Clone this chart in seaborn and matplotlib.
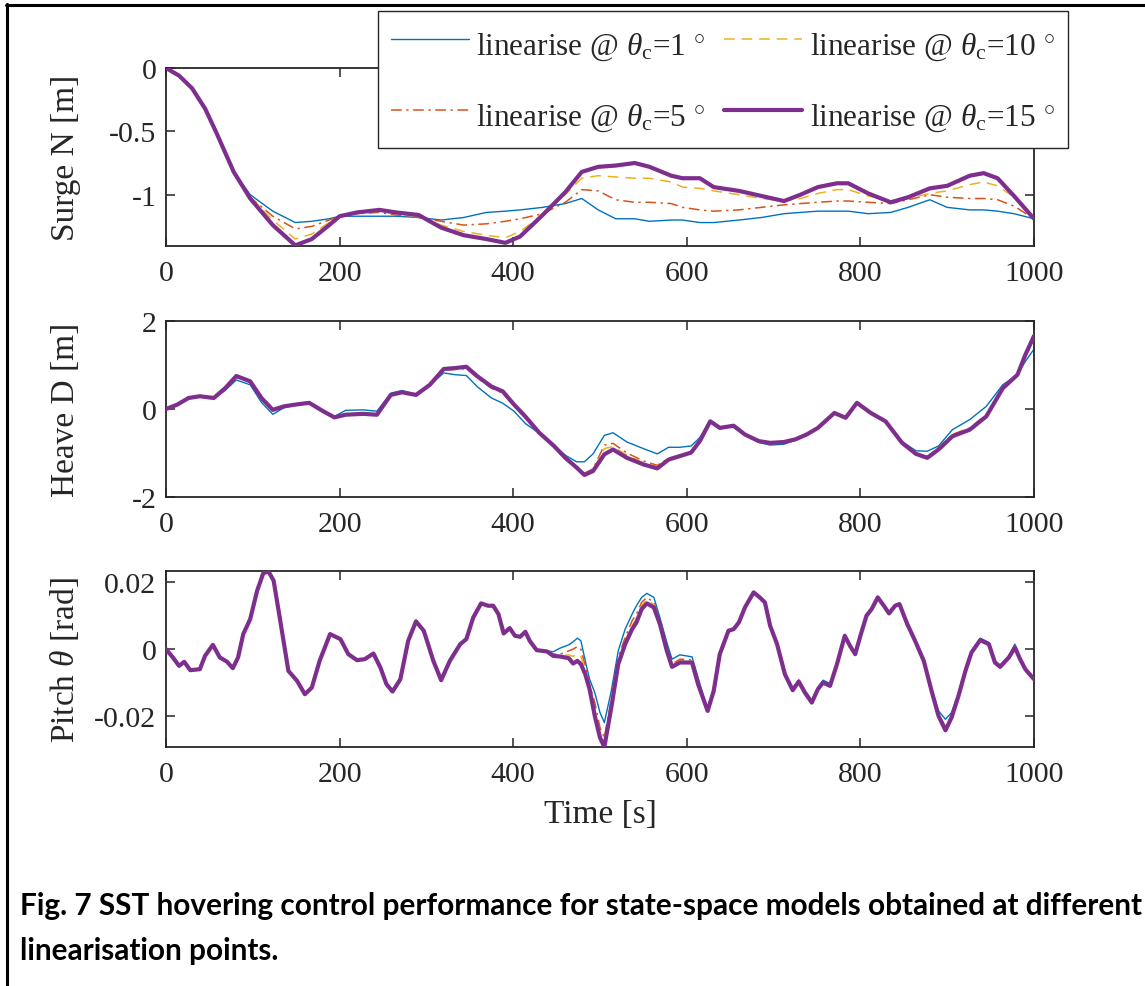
import numpy as np
import pandas as pd
import matplotlib
matplotlib.use("Agg")
import matplotlib.pyplot as plt
from matplotlib.lines import Line2D
import seaborn as sns

# ---------------- data ----------------
t_surge = [0, 15, 30, 45, 58, 78, 97, 123, 149, 168, 188, 200, 220, 246, 265, 291, 317, 343, 369, 391,
           408, 434, 460, 479, 498, 518, 540, 557, 582, 595, 615, 631, 660, 686, 712, 731, 751, 773, 786, 809,
           835, 855, 880, 900, 926, 942, 958, 977, 1000]
surge_1 = [0, -0.06, -0.16, -0.32, -0.51, -0.82, -1.00, -1.13, -1.22, -1.21, -1.19, -1.17, -1.17, -1.17, -1.17,
           -1.18, -1.20, -1.18, -1.14, -1.13, -1.12, -1.10, -1.07, -1.03, -1.12, -1.19, -1.19, -1.21, -1.20, -1.20,
           -1.22, -1.22, -1.20, -1.18, -1.15, -1.14, -1.13, -1.13, -1.13, -1.15, -1.14, -1.10, -1.04, -1.10, -1.12,
           -1.12, -1.13, -1.15, -1.19]
surge_5 = [0, -0.06, -0.16, -0.32, -0.51, -0.82, -1.02, -1.17, -1.27, -1.25, -1.20, -1.17, -1.15, -1.14, -1.16,
           -1.18, -1.21, -1.24, -1.23, -1.21, -1.19, -1.15, -1.06, -0.96, -0.97, -1.04, -1.06, -1.06, -1.07, -1.10,
           -1.12, -1.13, -1.12, -1.10, -1.08, -1.07, -1.06, -1.05, -1.05, -1.06, -1.07, -1.04, -1.00, -1.02, -1.03,
           -1.03, -1.04, -1.09, -1.19]
surge_10 = [0, -0.06, -0.16, -0.32, -0.51, -0.82, -1.02, -1.20, -1.35, -1.31, -1.22, -1.17, -1.15, -1.13, -1.15,
            -1.17, -1.24, -1.29, -1.32, -1.34, -1.29, -1.16, -1.00, -0.87, -0.85, -0.86, -0.87, -0.87, -0.90, -0.94,
            -0.95, -0.97, -1.00, -1.03, -1.05, -1.03, -0.99, -0.96, -0.96, -1.01, -1.05, -1.03, -0.99, -0.97, -0.92,
            -0.90, -0.93, -1.02, -1.19]
surge_15 = [0, -0.06, -0.16, -0.32, -0.51, -0.82, -1.03, -1.24, -1.40, -1.35, -1.24, -1.17, -1.14, -1.12, -1.14,
            -1.16, -1.26, -1.32, -1.35, -1.38, -1.33, -1.16, -0.98, -0.82, -0.78, -0.77, -0.75, -0.78, -0.85, -0.87,
            -0.87, -0.94, -0.97, -1.01, -1.05, -1.00, -0.94, -0.91, -0.91, -0.99, -1.06, -1.02, -0.95, -0.93, -0.85,
            -0.83, -0.87, -1.01, -1.19]

t_heave = [0, 13, 26, 39, 55, 68, 81, 97, 110, 123, 136, 149, 165, 181, 194, 207, 227, 243, 259, 272,
           288, 304, 320, 333, 346, 359, 375, 388, 401, 414, 430, 447, 460, 473, 482, 492, 505, 515, 531, 550,
           566, 579, 592, 605, 615, 627, 638, 654, 667, 683, 696, 712, 725, 738, 751, 770, 783, 796, 812, 829,
           848, 864, 877, 890, 906, 926, 945, 964, 981, 990, 1000]
heave_1 = [0, 0.10, 0.25, 0.28, 0.24, 0.42, 0.66, 0.55, 0.15, -0.12,
           0.03, 0.09, 0.13, -0.05, -0.17, -0.03, -0.02, -0.05, 0.36, 0.42,
           0.33, 0.55, 0.82, 0.78, 0.76, 0.50, 0.25, 0.13, -0.05, -0.33,
           -0.55, -0.82, -1.05, -1.20, -1.20, -1.02, -0.60, -0.54, -0.75, -0.90,
           -1.02, -0.87, -0.87, -0.84, -0.65, -0.26, -0.40, -0.42, -0.60, -0.76,
           -0.82, -0.80, -0.71, -0.58, -0.44, -0.10, -0.20, 0.13, -0.08, -0.28,
           -0.74, -0.95, -0.96, -0.84, -0.47, -0.24, 0.06, 0.55, 0.78, 1.08,
           1.36]
heave_5 = [0, 0.10, 0.25, 0.29, 0.25, 0.46, 0.72, 0.61, 0.22, -0.04,
           0.06, 0.10, 0.14, -0.05, -0.19, -0.12, -0.10, -0.12, 0.33, 0.39,
           0.32, 0.55, 0.88, 0.90, 0.92, 0.70, 0.47, 0.36, 0.07, -0.20,
           -0.55, -0.84, -1.10, -1.32, -1.46, -1.36, -0.82, -0.78, -1.00, -1.18,
           -1.28, -1.12, -1.05, -0.97, -0.72, -0.28, -0.43, -0.39, -0.59, -0.74,
           -0.78, -0.76, -0.70, -0.58, -0.43, -0.09, -0.20, 0.14, -0.09, -0.28,
           -0.77, -1.01, -1.08, -0.88, -0.58, -0.43, -0.13, 0.48, 0.78, 1.20,
           1.60]
heave_10 = [0, 0.10, 0.25, 0.29, 0.25, 0.47, 0.74, 0.62, 0.24, -0.03,
            0.06, 0.10, 0.14, -0.05, -0.19, -0.13, -0.11, -0.13, 0.32, 0.38,
            0.32, 0.55, 0.90, 0.92, 0.95, 0.73, 0.50, 0.39, 0.09, -0.18,
            -0.54, -0.84, -1.11, -1.33, -1.48, -1.39, -0.90, -0.85, -1.05, -1.22,
            -1.31, -1.13, -1.06, -0.98, -0.73, -0.28, -0.43, -0.38, -0.58, -0.73,
            -0.77, -0.75, -0.69, -0.58, -0.43, -0.09, -0.20, 0.14, -0.09, -0.28,
            -0.77, -1.02, -1.10, -0.90, -0.60, -0.45, -0.15, 0.47, 0.78, 1.22,
            1.63]
heave_15 = [0, 0.10, 0.25, 0.29, 0.25, 0.47, 0.75, 0.63, 0.25, -0.02,
            0.06, 0.10, 0.14, -0.05, -0.19, -0.13, -0.11, -0.13, 0.32, 0.38,
            0.32, 0.55, 0.91, 0.93, 0.96, 0.74, 0.51, 0.40, 0.10, -0.17,
            -0.54, -0.84, -1.11, -1.33, -1.50, -1.41, -1.03, -0.92, -1.11, -1.26,
            -1.35, -1.15, -1.07, -0.99, -0.73, -0.28, -0.43, -0.38, -0.58, -0.73,
            -0.77, -0.75, -0.69, -0.58, -0.43, -0.09, -0.20, 0.14, -0.09, -0.28,
            -0.77, -1.02, -1.11, -0.92, -0.62, -0.47, -0.17, 0.47, 0.78, 1.23,
            1.66]

t_pitch = [0, 8, 15, 21, 28, 39, 45, 54, 62, 70,
           77, 83, 89, 97, 105, 112, 118, 124, 131, 141,
           151, 160, 168, 177, 189, 201, 210, 220, 229, 239,
           247, 254, 261, 270, 279, 288, 297, 308, 317, 327,
           339, 346, 354, 363, 371, 377, 383, 389, 396, 402,
           408, 414, 419, 427, 439, 446, 454, 464, 469, 474,
           478, 483, 488, 494, 500, 505, 513, 521, 529, 537,
           542, 548, 554, 562, 569, 577, 583, 592, 606, 613,
           624, 631, 638, 648, 654, 660, 667, 677, 684, 690,
           696, 704, 713, 722, 729, 736, 744, 751, 757, 765,
           773, 782, 788, 794, 800, 807, 813, 820, 827, 833,
           840, 845, 854, 863, 873, 882, 890, 898, 905, 913,
           921, 928, 938, 948, 955, 961, 971, 978, 984, 990,
           1000]
pitch_1 = [0, -0.0025, -0.005, -0.0038, -0.0063, -0.006, -0.002, 0.0013, -0.0025, -0.0037,
           -0.0057, -0.0025, 0.0045, 0.009, 0.0175, 0.0227, 0.0233, 0.0205, 0.0095, -0.0065,
           -0.0095, -0.0135, -0.0115, -0.0035, 0.0048, 0.003, -0.0015, -0.0033, -0.003, -0.0013,
           -0.0055, -0.0105, -0.0127, -0.009, 0.0025, 0.0087, 0.0055, -0.0035, -0.0093, -0.0035,
           0.0015, 0.003, 0.0095, 0.0137, 0.013, 0.013, 0.0105, 0.0047, 0.0063, 0.004,
           0.0037, 0.0052, 0.0025, -0.0003, -0.0005, -0.0008, 0.0003, 0.0013, 0.0022, 0.0033,
           0.0025, -0.0035, -0.009, -0.013, -0.019, -0.022, -0.0125, -0.0005, 0.006, 0.0105,
           0.013, 0.0155, 0.0167, 0.0155, 0.0095, 0.002, -0.003, -0.0017, -0.0023, -0.0085,
           -0.0183, -0.0125, -0.0015, 0.0055, 0.006, 0.008, 0.0125, 0.017, 0.0155, 0.014,
           0.007, 0.0015, -0.0075, -0.0117, -0.0092, -0.0123, -0.0153, -0.0115, -0.0093, -0.0103,
           -0.0045, 0.004, 0.001, -0.0015, 0.004, 0.01, 0.012, 0.0155, 0.013, 0.0107,
           0.013, 0.0135, 0.0075, 0.0025, -0.0035, -0.0118, -0.0185, -0.021, -0.019, -0.013,
           -0.0058, -0.0005, 0.0033, 0.002, -0.0035, -0.0048, -0.002, 0.0015, -0.0025, -0.0057,
           -0.009]
pitch_5 = [0, -0.0025, -0.005, -0.0038, -0.0063, -0.006, -0.002, 0.0013, -0.0025, -0.0037,
           -0.0057, -0.0025, 0.0045, 0.009, 0.0175, 0.0227, 0.0233, 0.0205, 0.0095, -0.0065,
           -0.0095, -0.0135, -0.0115, -0.0035, 0.0046, 0.003, -0.0015, -0.0033, -0.003, -0.0013,
           -0.0055, -0.0105, -0.0127, -0.009, 0.0025, 0.0085, 0.0055, -0.0035, -0.0093, -0.0035,
           0.0015, 0.003, 0.0095, 0.0137, 0.013, 0.013, 0.0105, 0.0047, 0.0063, 0.004,
           0.0037, 0.0052, 0.0025, -0.0003, -0.0007, -0.0015, -0.0015, -0.0005, 0.0, 0.0008,
           0.0, -0.005, -0.0105, -0.016, -0.0235, -0.0265, -0.015, -0.0025, 0.0035, 0.0085,
           0.0105, 0.014, 0.0155, 0.014, 0.0085, 0.0005, -0.0045, -0.003, -0.0032, -0.0095,
           -0.0184, -0.0125, -0.0015, 0.0055, 0.006, 0.008, 0.0125, 0.017, 0.0155, 0.014,
           0.007, 0.0015, -0.0075, -0.012, -0.0095, -0.0127, -0.0157, -0.0118, -0.0097, -0.0107,
           -0.0045, 0.004, 0.001, -0.0015, 0.004, 0.01, 0.012, 0.0155, 0.013, 0.0107,
           0.013, 0.0135, 0.0075, 0.0025, -0.0035, -0.0122, -0.0195, -0.0232, -0.02, -0.0135,
           -0.0062, -0.0008, 0.003, 0.0017, -0.0038, -0.005, -0.0023, 0.001, -0.0028, -0.0058,
           -0.009]
pitch_10 = [0, -0.0025, -0.005, -0.0038, -0.0063, -0.006, -0.002, 0.0013, -0.0025, -0.0037,
            -0.0057, -0.0025, 0.0045, 0.009, 0.0175, 0.0227, 0.0233, 0.0205, 0.0095, -0.0065,
            -0.0095, -0.0135, -0.0115, -0.0035, 0.0045, 0.003, -0.0015, -0.0033, -0.003, -0.0013,
            -0.0055, -0.0105, -0.0127, -0.009, 0.0025, 0.0084, 0.0055, -0.0035, -0.0093, -0.0035,
            0.0015, 0.003, 0.0095, 0.0137, 0.013, 0.013, 0.0105, 0.0047, 0.0063, 0.004,
            0.0037, 0.0052, 0.0025, -0.0003, -0.0007, -0.0019, -0.002, -0.0017, -0.0022, -0.0013,
            -0.0022, -0.006, -0.0115, -0.018, -0.025, -0.028, -0.0165, -0.0035, 0.0025, 0.007,
            0.0092, 0.013, 0.0148, 0.0133, 0.008, 0.0, -0.0048, -0.0035, -0.0036, -0.01,
            -0.0185, -0.0125, -0.0015, 0.0055, 0.006, 0.008, 0.0125, 0.017, 0.0155, 0.014,
            0.007, 0.0015, -0.0075, -0.0122, -0.0096, -0.0129, -0.0159, -0.0119, -0.0099, -0.0109,
            -0.0045, 0.004, 0.001, -0.0015, 0.004, 0.01, 0.012, 0.0155, 0.013, 0.0107,
            0.013, 0.0135, 0.0075, 0.0025, -0.0035, -0.0124, -0.0198, -0.024, -0.0203, -0.0138,
            -0.0064, -0.0009, 0.0028, 0.0016, -0.0039, -0.0052, -0.0024, 0.0007, -0.0029, -0.0059,
            -0.009]
pitch_15 = [0, -0.0025, -0.005, -0.0038, -0.0063, -0.006, -0.002, 0.0013, -0.0025, -0.0037,
            -0.0057, -0.0025, 0.0045, 0.009, 0.0175, 0.0227, 0.0233, 0.0205, 0.0095, -0.0065,
            -0.0095, -0.0135, -0.0115, -0.0035, 0.0045, 0.003, -0.0015, -0.0033, -0.003, -0.0013,
            -0.0055, -0.0105, -0.0127, -0.009, 0.0025, 0.0083, 0.0055, -0.0035, -0.0093, -0.0035,
            0.0015, 0.003, 0.0095, 0.0137, 0.013, 0.013, 0.0105, 0.0047, 0.0063, 0.004,
            0.0037, 0.0052, 0.0025, -0.0003, -0.0007, -0.002, -0.0022, -0.0027, -0.0043, -0.0035,
            -0.0045, -0.0075, -0.012, -0.02, -0.0265, -0.0293, -0.0175, -0.0045, 0.0015, 0.006,
            0.008, 0.012, 0.0137, 0.0125, 0.0075, -0.0005, -0.0053, -0.004, -0.004, -0.0105,
            -0.0185, -0.0125, -0.0015, 0.0055, 0.006, 0.008, 0.0125, 0.017, 0.0155, 0.014,
            0.007, 0.0015, -0.0075, -0.0123, -0.0097, -0.013, -0.016, -0.012, -0.01, -0.011,
            -0.0045, 0.004, 0.001, -0.0015, 0.004, 0.01, 0.012, 0.0155, 0.013, 0.0107,
            0.013, 0.0135, 0.0075, 0.0025, -0.0035, -0.0125, -0.02, -0.0243, -0.0205, -0.014,
            -0.0065, -0.001, 0.0027, 0.0015, -0.004, -0.0053, -0.0025, 0.0005, -0.003, -0.006,
            -0.009]

series_names = [r"linearise @ $\theta_{\mathrm{c}}$=1 $^{\circ}$",
                r"linearise @ $\theta_{\mathrm{c}}$=5 $^{\circ}$",
                r"linearise @ $\theta_{\mathrm{c}}$=10 $^{\circ}$",
                r"linearise @ $\theta_{\mathrm{c}}$=15 $^{\circ}$"]
x_ticks = [0, 200, 400, 600, 800, 1000]
y_labels = ["Surge N [m]", "Heave D [m]", r"Pitch $\theta$ [rad]"]
x_label = "Time [s]"
caption_1 = "Fig. 7 SST hovering control performance for state-space models obtained at different"
caption_2 = "linearisation points."

# ---------------- style ----------------
sns.set_theme(style="white")
plt.rcParams["font.family"] = ["Liberation Serif", "DejaVu Serif"]
plt.rcParams["mathtext.fontset"] = "custom"
plt.rcParams["mathtext.rm"] = "Liberation Serif"
plt.rcParams["mathtext.it"] = "Liberation Serif:italic"
plt.rcParams["axes.unicode_minus"] = False

colors = ["#0072BD", "#D95319", "#EDB120", "#7E2F8E"]
styles = ["-", (0, (7, 3, 1.5, 3)), (0, (7, 4.5)), "-"]
widths = [1.0, 1.1, 1.1, 3.0]
ink = "#262626"

W, H = 1145, 987
fig = plt.figure(figsize=(W / 100, H / 100), dpi=100)

def fx(px):
    return px / W

def fy(py):
    return 1 - py / H

left, right = 166, 1034
rows = [(69, 247), (322, 498), (572, 748)]
axes = []
for top, bot in rows:
    ax = fig.add_axes([fx(left), fy(bot), fx(right) - fx(left), fy(top) - fy(bot)])
    axes.append(ax)

panels = [
    (t_surge, [surge_1, surge_5, surge_10, surge_15], (-1.405, 0), [-1, -0.5, 0], ["-1", "-0.5", "0"]),
    (t_heave, [heave_1, heave_5, heave_10, heave_15], (-2, 2), [-2, 0, 2], ["-2", "0", "2"]),
    (t_pitch, [pitch_1, pitch_5, pitch_10, pitch_15], (-0.0293, 0.0234), [-0.02, 0, 0.02], ["-0.02", "0", "0.02"]),
]

for i, (ax, (tt, ys, ylim, yt, ytl)) in enumerate(zip(axes, panels)):
    for k, y in enumerate(ys):
        df = pd.DataFrame({"t": tt, "v": y})
        sns.lineplot(data=df, x="t", y="v", ax=ax, color=colors[k], linewidth=widths[k],
                     label=series_names[k] if i == 0 else None, legend=False, zorder=2 + k)
        ln = ax.lines[-1]
        ln.set_linestyle(styles[k])
        ln.set_solid_joinstyle("round")
        ln.set_dash_joinstyle("round")
    ax.set_xlim(0, 1000)
    ax.set_ylim(*ylim)
    ax.set_xticks(x_ticks)
    ax.set_xticklabels([str(v) for v in x_ticks])
    ax.set_yticks(yt)
    ax.set_yticklabels(ytl)
    ax.set_xlabel("")
    ax.set_ylabel(y_labels[i], fontsize=24, color=ink)
    ax.yaxis.set_label_coords(-0.098, 0.5)
    ax.tick_params(axis="both", direction="in", length=6.5, width=1.1, colors=ink,
                   labelsize=21.5, top=True, right=True, left=True, bottom=True)
    ax.tick_params(axis="x", pad=10)
    ax.tick_params(axis="y", pad=7)
    for s in ax.spines.values():
        s.set_visible(True)
        s.set_color(ink)
        s.set_linewidth(1.3)
    ax.set_facecolor("white")

axes[2].set_xlabel(x_label, fontsize=24, color=ink, labelpad=8)

handles = axes[0].lines[:4]
leg = fig.legend(handles, series_names, ncol=2, loc="upper left",
                 bbox_to_anchor=(fx(378), fy(12)), borderaxespad=0, frameon=True,
                 fancybox=False, shadow=False, fontsize=22.5, handlelength=2.5,
                 handleheight=1.6, handletextpad=0.25, columnspacing=0.6, labelspacing=1.0,
                 borderpad=0.4, framealpha=1)
leg.get_frame().set_edgecolor(ink)
leg.get_frame().set_linewidth(1.0)

# figure frame (page border)
fig.add_artist(Line2D([fx(6), 1], [fy(6), fy(6)], transform=fig.transFigure, color="black", lw=2.2))
fig.add_artist(Line2D([fx(7), fx(7)], [fy(5), 0], transform=fig.transFigure, color="black", lw=2.2))

cap_font = ["Liberation Sans Narrow", "Lato", "DejaVu Sans"]
fig.text(fx(20), fy(906), caption_1, ha="left", va="center", fontsize=21.4, fontweight="bold",
         family=cap_font, color="black")
fig.text(fx(20), fy(951), caption_2, ha="left", va="center", fontsize=21.4, fontweight="bold",
         family=cap_font, color="black")

fig.savefig("out.png", dpi=100, facecolor="white")
